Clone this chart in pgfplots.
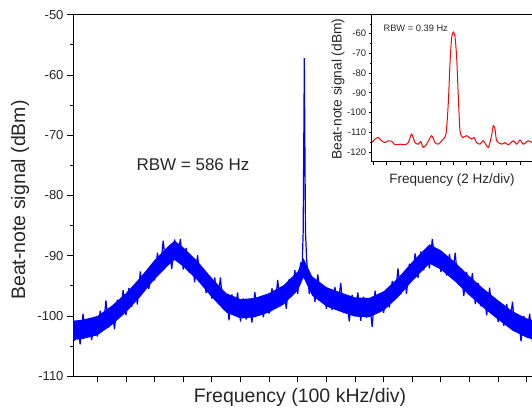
\documentclass[border=0pt]{standalone}
\usepackage{pgfplots}
\pgfplotsset{compat=1.18}
\usepackage{fontspec}
\setmainfont{Liberation Sans}
\begin{document}
\begin{tikzpicture}
\useasboundingbox (0,0) rectangle (532pt,412pt);
\clip (0,0) rectangle (532pt,412pt);
\begin{axis}[
  at={(73pt,35.7pt)}, anchor=south west, scale only axis,
  width=482.4pt, height=361.6pt,
  xmin=-0.85, xmax=16, ymin=-110, ymax=-50,
  xtick={0,...,15}, xticklabels={},
  ytick={-110,-100,...,-50},
  yticklabels={-110,-100,-90,-80,-70,-60,-50},
  minor ytick={-105,-95,...,-55},
  tick align=outside, tick pos=left,
  major tick length=6pt, minor tick length=3pt,
  tick style={black, line width=0.8pt},
  axis line style={line width=0.9pt},
  yticklabel style={font=\fontsize{13}{13}\selectfont, text=black!85},
]
% filled core of the noisy band
\addplot[fill=blue, draw=none] coordinates {
(-0.9,-100.8) (-0.5,-100.6) (0.0,-100.0) (0.5,-98.3) (1.0,-96.2) (1.5,-93.6) (2.0,-90.7) (2.5,-88.3) (2.7,-87.5) (3.0,-88.6) (3.5,-90.9) (4.0,-93.7) (4.5,-96.2) (5.0,-97.2) (5.5,-97.0) (6.0,-96.2) (6.5,-94.9) (7.0,-92.6) (7.2,-90.4) (7.5,-93.4) (8.0,-95.2) (8.5,-96.1) (9.0,-96.9) (9.5,-97.0) (10.0,-95.9) (10.5,-93.7) (11.0,-91.0) (11.6,-88.1) (12.0,-89.1) (12.5,-91.1) (13.0,-93.4) (13.5,-95.5) (14.0,-97.4) (14.5,-99.2) (15.0,-100.4) (15.6,-101.2)
(15.6,-104.4) (15.0,-103.6) (14.5,-102.4) (14.0,-100.6) (13.5,-98.7) (13.0,-96.6) (12.5,-94.3) (12.0,-92.3) (11.6,-91.3) (11.0,-94.2) (10.5,-96.9) (10.0,-99.1) (9.5,-100.2) (9.0,-100.1) (8.5,-99.3) (8.0,-98.4) (7.5,-96.6) (7.2,-93.6) (7.0,-95.8) (6.5,-98.1) (6.0,-99.4) (5.5,-100.2) (5.0,-100.4) (4.5,-99.4) (4.0,-96.9) (3.5,-94.1) (3.0,-91.8) (2.7,-90.7) (2.5,-91.5) (2.0,-93.9) (1.5,-96.8) (1.0,-99.4) (0.5,-101.5) (0.0,-103.2) (-0.5,-103.8) (-0.9,-104.0)
};
% noisy trace
\addplot[blue, line width=1.2pt, line join=bevel] coordinates {
(-0.9,-100.5) (-0.8,-104.1) (-0.7,-101.1) (-0.6,-104.7) (-0.5,-99.6) (-0.4,-103.3) (-0.3,-100.6) (-0.2,-104.0) (-0.1,-101.0) (0.0,-103.4)
(0.1,-99.1) (0.2,-102.3) (0.3,-97.4) (0.4,-101.9) (0.5,-98.5) (0.6,-102.2) (0.7,-97.3) (0.8,-99.9) (0.9,-95.7) (1.0,-99.9)
(1.1,-95.4) (1.2,-98.5) (1.3,-95.0) (1.4,-98.1) (1.5,-92.6) (1.6,-95.8) (1.7,-92.6) (1.8,-95.5) (1.9,-91.9) (2.0,-94.1)
(2.1,-89.5) (2.2,-92.4) (2.3,-87.5) (2.4,-91.9) (2.5,-88.5) (2.6,-92.2) (2.7,-87.3) (2.8,-90.5) (2.9,-87.2) (3.0,-92.3)
(3.1,-88.7) (3.2,-92.8) (3.3,-90.3) (3.4,-94.4) (3.5,-89.9) (3.6,-94.2) (3.7,-92.2) (3.8,-96.2) (3.9,-93.8) (4.0,-97.1)
(4.1,-93.6) (4.2,-97.6) (4.3,-93.6) (4.4,-98.9) (4.5,-96.4) (4.6,-100.7) (4.7,-96.4) (4.8,-99.6) (4.9,-96.1) (5.0,-100.9)
(5.1,-97.1) (5.2,-100.6) (5.3,-97.6) (5.4,-101.1) (5.5,-96.0) (5.6,-99.6) (5.7,-96.9) (5.8,-100.2) (5.9,-97.0) (6.0,-99.6)
(6.1,-95.4) (6.2,-98.7) (6.3,-94.0) (6.4,-98.4) (6.5,-95.1) (6.6,-98.8) (6.7,-93.9) (6.8,-96.5) (6.9,-92.4) (7.0,-96.3)
(7.1,-91.1) (7.15,-92.5) (7.19,-86) (7.21,-72) (7.23,-57.2) (7.25,-72) (7.27,-86) (7.31,-90.5)
(7.4,-96.3) (7.5,-93.8) (7.6,-97.7) (7.7,-93.1) (7.8,-97.1) (7.9,-94.9) (8.0,-98.8)
(8.1,-96.0) (8.2,-99.0) (8.3,-95.2) (8.4,-98.8) (8.5,-94.5) (8.6,-99.5) (8.7,-96.6) (8.8,-100.9) (8.9,-96.5) (9.0,-99.7)
(9.1,-96.1) (9.2,-100.8) (9.3,-96.8) (9.4,-100.3) (9.5,-97.4) (9.6,-101.8) (9.7,-95.8) (9.8,-99.4) (9.9,-96.4) (10.0,-99.5)
(10.1,-96.1) (10.2,-98.6) (10.3,-94.2) (10.4,-97.2) (10.5,-92.1) (10.6,-96.4) (10.7,-92.8) (10.8,-96.3) (10.9,-91.3) (11.0,-93.8)
(11.1,-89.6) (11.2,-93.7) (11.3,-89.3) (11.4,-92.4) (11.5,-89.0) (11.6,-92.1) (11.7,-87.2) (11.8,-91.2) (11.9,-88.9) (12.0,-92.7)
(12.1,-90.0) (12.2,-93.3) (12.3,-89.7) (12.4,-93.6) (12.5,-89.5) (12.6,-94.7) (12.7,-92.1) (12.8,-96.7) (12.9,-92.7) (13.0,-96.2)
(13.1,-92.9) (13.2,-98.0) (13.3,-94.5) (13.4,-98.4) (13.5,-95.9) (13.6,-99.9) (13.7,-95.3) (13.8,-99.4) (13.9,-97.1) (14.0,-101.0)
(14.1,-98.4) (14.2,-101.6) (14.3,-98.0) (14.4,-101.8) (14.5,-97.6) (14.6,-102.6) (14.7,-99.9) (14.8,-104.2) (14.9,-100.0) (15.0,-103.2)
(15.1,-99.6) (15.2,-104.4) (15.3,-100.5) (15.4,-104.2) (15.5,-101.5) (15.6,-105.2)
};
\end{axis}
\node[anchor=west, font=\fontsize{17}{17}\selectfont, text=black!85] at (133pt,247pt) {RBW = 586 Hz};
\node[font=\fontsize{19.5}{20}\selectfont, text=black!85] at (300pt,15pt) {Frequency (100 kHz/div)};
\node[rotate=90, font=\fontsize{19.5}{20}\selectfont, text=black!85] at (20pt,212pt) {Beat-note signal (dBm)};
% inset
\begin{axis}[
  at={(371.7pt,250.3pt)}, anchor=south west, scale only axis,
  width=168.3pt, height=147.7pt,
  xmin=-0.12, xmax=12.5, ymin=-125, ymax=-50,
  axis background/.style={fill=white},
  xtick={0,...,12}, xticklabels={},
  ytick={-120,-110,...,-60},
  yticklabels={-120,-110,-100,-90,-80,-70,-60},
  minor ytick={-115,-105,...,-55},
  tick align=outside, tick pos=left,
  major tick length=3pt, minor tick length=1.8pt,
  tick style={black, line width=0.6pt},
  axis line style={line width=0.8pt},
  yticklabel style={font=\fontsize{9.5}{9.5}\selectfont, text=black!85, xshift=1pt},
]
\addplot[red, line width=1pt, smooth, tension=0.4] coordinates {
(-0.125,-115.3) (0.125,-113.5) (0.375,-112.7) (0.625,-114.4) (0.875,-115.3) (1.125,-114.4) (1.375,-114.6) (1.625,-116.4) (2.0,-116.1) (2.375,-116.4) (2.625,-115.3) (2.875,-111.0) (3.125,-115.3) (3.375,-116.1) (3.55,-114.8) (3.75,-117.8) (4.0,-116.1) (4.375,-111.8) (4.625,-115.3) (4.875,-116.1) (5.125,-114.4) (5.45,-111.0) (5.625,-95) (5.75,-75) (5.875,-62) (6.0,-59.2) (6.125,-61.5) (6.25,-72) (6.375,-92) (6.5,-109.3) (6.7,-112.7) (7.0,-111.8) (7.375,-113.5) (7.55,-112.7) (7.75,-115.3) (8.0,-116.1) (8.25,-114.4) (8.625,-117.8) (8.875,-111.5) (9.0,-106.7) (9.125,-108.5) (9.25,-114.4) (9.625,-116.1) (9.875,-115.3) (10.125,-116.4) (10.5,-114.4) (10.75,-116.1) (11.0,-114.0) (11.25,-116.1) (11.625,-114.4) (11.9,-115.3) (12.25,-116.0) (12.5,-115.5)
};
\end{axis}
\node[anchor=west, font=\fontsize{9.3}{9.3}\selectfont, text=black!85] at (380pt,383.7pt) {RBW = 0.39 Hz};
\node[font=\fontsize{13.5}{14}\selectfont, text=black!85] at (452pt,232pt) {Frequency (2 Hz/div)};
\node[rotate=90, font=\fontsize{13.8}{14}\selectfont, text=black!85] at (338pt,323pt) {Beat-note signal (dBm)};
\end{tikzpicture}
\end{document}
